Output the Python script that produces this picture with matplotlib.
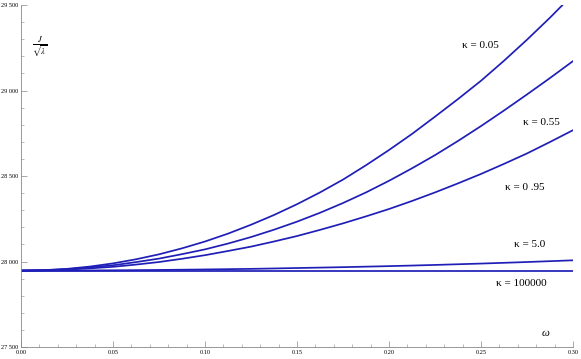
import matplotlib
matplotlib.use("Agg")
import matplotlib.pyplot as plt
from matplotlib.ticker import MultipleLocator, FuncFormatter

# omega grid (steps of 0.0125)
omega = [0.0, 0.0125, 0.025, 0.0375, 0.05, 0.0625, 0.075, 0.0875, 0.10, 0.1125,
         0.125, 0.1375, 0.15, 0.1625, 0.175, 0.1875, 0.20, 0.2125, 0.225, 0.2375,
         0.25, 0.2625, 0.275, 0.2875, 0.30]

# J / sqrt(lambda) for each kappa
j_k005 = [27947, 27949.5, 27957, 27970.5, 27989, 28013, 28042, 28077, 28117, 28163,
          28215, 28272, 28335, 28404, 28479, 28563, 28652, 28746, 28847, 28950,
          29057, 29174, 29297, 29426, 29562]
j_k055 = [27947, 27949, 27955, 27965.5, 27978, 27996.5, 28017, 28043, 28071, 28105,
          28143, 28186, 28233, 28285, 28342, 28404, 28472, 28545, 28622, 28705,
          28792, 28883, 28977, 29073, 29172]
j_k095 = [27947, 27948.5, 27953, 27960, 27969, 27982, 27997, 28016, 28037, 28061.5,
          28087, 28117, 28149, 28185, 28223, 28264, 28307, 28354, 28404, 28457,
          28512, 28571, 28632, 28699, 28768]
j_k5 = [27947, 27947.1, 27947.4, 27947.9, 27948.6, 27949.6, 27950.7, 27952.1, 27953.6, 27955.2,
        27957, 27959.4, 27962, 27964.4, 27967, 27970, 27973, 27976.4, 27980, 27984,
        27988, 27992.4, 27997, 28002, 28007]
j_k1e5 = [27947] * 25

curves = [j_k005, j_k055, j_k095, j_k5, j_k1e5]
labels = ["κ = 0.05", "κ = 0.55", "κ = 0 .95", "κ = 5.0", "κ = 100000"]
label_pos = [(0.2495, 29266), (0.283, 28815), (0.274, 28434), (0.2766, 28101), (0.272, 27872)]

plt.rcParams['font.family'] = ['Liberation Serif', 'DejaVu Serif']
plt.rcParams['mathtext.fontset'] = 'stix'

fig = plt.figure(figsize=(5.81, 3.59), dpi=100)
ax = fig.add_axes([0.0361, 0.0334, 0.9501, 0.9526])

for c in curves:
    ax.plot(omega, c, color='#1f1fb8', lw=1.25)

for lab, (x, y) in zip(labels, label_pos):
    ax.text(x, y, lab, fontsize=8, ha='center', va='center')

ax.text(0.285, 27580, "ω", fontsize=8, ha='center', va='center', style='italic')
ax.text(0.0103, 29254, r'$\frac{J}{\sqrt{\lambda}}$', fontsize=8.5, ha='center', va='center')

ax.set_xlim(0, 0.30)
ax.set_ylim(27500, 29500)
ax.spines['top'].set_visible(False)
ax.spines['right'].set_visible(False)
for s in ['left', 'bottom']:
    ax.spines[s].set_color('#888888')
    ax.spines[s].set_linewidth(0.6)

ax.xaxis.set_major_locator(MultipleLocator(0.05))
ax.xaxis.set_minor_locator(MultipleLocator(0.01))
ax.yaxis.set_major_locator(MultipleLocator(500))
ax.yaxis.set_minor_locator(MultipleLocator(100))
ax.xaxis.set_major_formatter(FuncFormatter(lambda v, p: "%.2f" % v))
ax.yaxis.set_major_formatter(FuncFormatter(lambda v, p: "%d %03d" % (int(v) // 1000, int(v) % 1000)))
ax.tick_params(which='major', direction='in', length=4, width=0.5, color='#888888', labelsize=4.5, pad=2)
ax.tick_params(which='minor', direction='in', length=2, width=0.4, color='#888888')

fig.savefig("out.png", dpi=100)
